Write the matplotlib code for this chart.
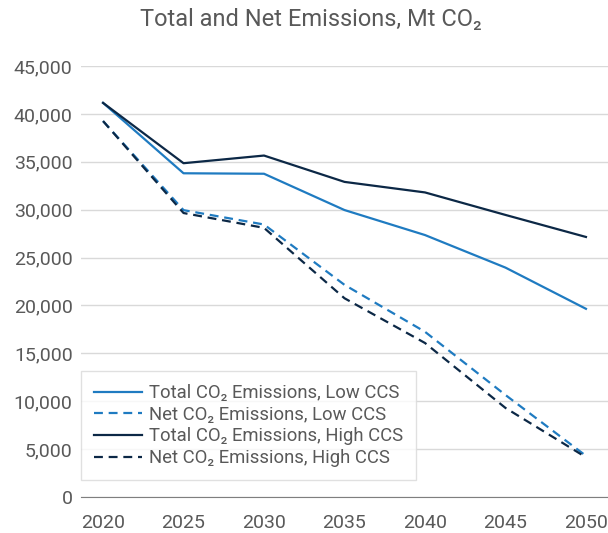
import matplotlib
matplotlib.use("Agg")
from matplotlib import pyplot as plt

plt.rcParams['font.family'] = ['Roboto', 'DejaVu Sans']

years = [2020, 2025, 2030, 2035, 2040, 2045, 2050]
total_low = [41150, 33800, 33750, 29960, 27350, 23950, 19650]
net_low = [39250, 29950, 28450, 22150, 17250, 10650, 4300]
total_high = [41150, 34850, 35650, 32900, 31800, 29450, 27150]
net_high = [39250, 29650, 28100, 20750, 16080, 9300, 4150]

light = '#1f7bc1'
dark = '#0c2846'
text_col = '#595959'
dash = (0, (4, 2.6))

fig = plt.figure(figsize=(6.08, 5.33), dpi=100)
ax = fig.add_axes([81 / 608, 36 / 533, 527 / 608, 431 / 533])

ax.plot(years, total_low, color=light, lw=1.6, label='Total CO₂ Emissions, Low CCS')
ax.plot(years, net_low, color=light, lw=1.6, ls=dash, label='Net CO₂ Emissions, Low CCS')
ax.plot(years, total_high, color=dark, lw=1.6, label='Total CO₂ Emissions, High CCS')
ax.plot(years, net_high, color=dark, lw=1.6, ls=dash, label='Net CO₂ Emissions, High CCS')

ax.set_xlim(2018.63, 2051.37)
ax.set_ylim(0, 45000)
ax.set_yticks(range(0, 45001, 5000))
ax.set_yticklabels([f'{v:,}' for v in range(0, 45001, 5000)])
ax.set_xticks(years)
ax.set_xticklabels([str(y) for y in years])

ax.grid(axis='y', color='#d9d9d9', lw=1)
ax.set_axisbelow(True)
for s in ['top', 'right', 'left']:
    ax.spines[s].set_visible(False)
ax.spines['bottom'].set_color('#7f7f7f')
ax.tick_params(length=0, labelsize=14, colors=text_col)
ax.tick_params(axis='y', pad=6)
ax.tick_params(axis='x', pad=12)

fig.text(0.512, 1 - 19 / 533, 'Total and Net Emissions, Mt CO₂', fontsize=17,
         color=text_col, ha='center', va='center')

leg = ax.legend(loc='upper left', bbox_to_anchor=(0.0, 0.292), borderaxespad=0,
                fontsize=13.3, frameon=True, fancybox=False, edgecolor='#d9d9d9',
                handlelength=2.6, handletextpad=0.4, labelspacing=0.2,
                borderpad=0.7, labelcolor=text_col)
leg.get_frame().set_linewidth(1)

fig.savefig('out.png', dpi=100)
